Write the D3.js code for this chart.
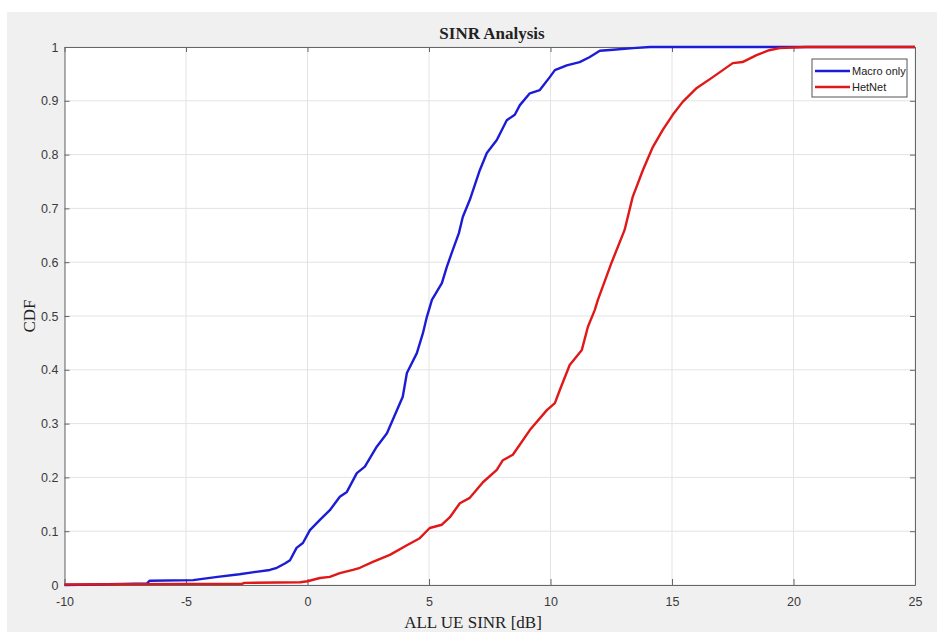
<!DOCTYPE html>
<html>
<head>
<meta charset="utf-8">
<script src="https://cdn.jsdelivr.net/npm/d3@7"></script>
<style>
  body { margin: 0; background: #fff; }
  svg { display: block; }
</style>
</head>
<body>
<svg id="chart" width="943" height="632"></svg>
<script>
// CDF of SINR, [dB, cdf]
const macroOnly = [
  [-10, 0], [-8.8, 0.001], [-7.6, 0.002], [-6.6, 0.003], [-6.5, 0.008], [-4.7, 0.009],
  [-4.4, 0.011], [-3.7, 0.015], [-2.8, 0.02], [-2.2, 0.024], [-1.55, 0.028],
  [-1.26, 0.032], [-0.93, 0.04], [-0.72, 0.046], [-0.45, 0.069], [-0.19, 0.078],
  [0.1, 0.102], [0.51, 0.121], [0.92, 0.139], [1.33, 0.164], [1.62, 0.173],
  [2.03, 0.208], [2.36, 0.22], [2.85, 0.257], [3.27, 0.282], [3.51, 0.307],
  [3.92, 0.35], [4.09, 0.394], [4.5, 0.431], [4.75, 0.468], [4.91, 0.498],
  [5.12, 0.53], [5.53, 0.561], [5.73, 0.591], [5.98, 0.623], [6.23, 0.654],
  [6.39, 0.684], [6.68, 0.716], [7.09, 0.771], [7.38, 0.803], [7.79, 0.827],
  [8.2, 0.864], [8.53, 0.874], [8.74, 0.892], [9.15, 0.914], [9.56, 0.92],
  [9.97, 0.944], [10.18, 0.957], [10.67, 0.966], [11.2, 0.972], [11.6, 0.981],
  [12.03, 0.993], [12.57, 0.995], [13.4, 0.998], [14.1, 1], [25, 1]
]
const hetNet = [
  [-10, 0.001], [-5, 0.002], [-2.7, 0.002], [-2.6, 0.004], [-0.3, 0.005],
  [0, 0.007], [0.51, 0.013], [0.92, 0.015], [1.33, 0.022], [1.87, 0.028],
  [2.16, 0.032], [2.69, 0.043], [3.39, 0.056], [4.09, 0.074], [4.62, 0.087],
  [5.03, 0.106], [5.53, 0.112], [5.86, 0.126], [6.27, 0.152], [6.68, 0.162],
  [7.22, 0.191], [7.79, 0.214], [8.04, 0.232], [8.45, 0.242], [9.15, 0.288],
  [9.85, 0.325], [10.18, 0.338], [10.38, 0.362], [10.79, 0.409], [11.29, 0.437],
  [11.54, 0.48], [11.82, 0.511], [11.95, 0.53], [12.52, 0.6], [13.05, 0.66],
  [13.38, 0.721], [13.8, 0.771], [14.21, 0.814], [14.62, 0.846], [15.03, 0.874],
  [15.44, 0.898], [16.02, 0.924], [16.68, 0.944], [17.5, 0.97], [17.9, 0.972],
  [18.48, 0.985], [19.0, 0.994], [19.43, 0.998], [20.5, 1], [25, 1]
]
const seriesNames = ['Macro only', 'HetNet']
const seriesColors = ['#1c1cd6', '#e01818']
const xTicks = [-10, -5, 0, 5, 10, 15, 20, 25]
const yTicks = [0, 0.1, 0.2, 0.3, 0.4, 0.5, 0.6, 0.7, 0.8, 0.9, 1]

const svg = d3.select('#chart')
const margin = { left: 64.5, right: 28, top: 47, bottom: 47 }
const width = 943, height = 632
const innerWidth = width - margin.left - margin.right
const innerHeight = height - margin.top - margin.bottom

// gray figure background
svg.append('rect').attr('x', 7).attr('y', 12).attr('width', 930).attr('height', 620).attr('fill', '#f0f0f0')

const xScale = d3.scaleLinear().domain([-10, 25]).range([0, innerWidth])
const yScale = d3.scaleLinear().domain([0, 1]).range([innerHeight, 0])

const g = svg.append('g').attr('transform', 'translate(' + margin.left + ',' + margin.top + ')')
g.append('rect').attr('width', innerWidth).attr('height', innerHeight).attr('fill', '#fff')

// grid
g.selectAll('.vgrid').data(xTicks).enter().append('line')
  .attr('x1', d => xScale(d)).attr('x2', d => xScale(d))
  .attr('y1', 0).attr('y2', innerHeight)
  .attr('stroke', '#e3e3e3').attr('stroke-width', 1)
g.selectAll('.hgrid').data(yTicks).enter().append('line')
  .attr('x1', 0).attr('x2', innerWidth)
  .attr('y1', d => yScale(d)).attr('y2', d => yScale(d))
  .attr('stroke', '#e3e3e3').attr('stroke-width', 1)

// axes (inward ticks, like matlab)
const axisColor = '#666'
const xAxis = g.append('g').attr('transform', `translate(0,${innerHeight})`)
  .call(d3.axisBottom(xScale).tickValues(xTicks).tickSizeInner(-6).tickSizeOuter(0).tickPadding(12)
    .tickFormat(d => String(d)))
const xAxisTop = g.append('g')
  .call(d3.axisTop(xScale).tickValues(xTicks).tickSizeInner(-5).tickSizeOuter(0))
const yAxis = g.append('g')
  .call(d3.axisLeft(yScale).tickValues(yTicks).tickSizeInner(-5).tickSizeOuter(0).tickPadding(6)
    .tickFormat(d => d === 0 || d === 1 ? String(d) : d3.format('.1f')(d)))
const yAxisRight = g.append('g').attr('transform', `translate(${innerWidth},0)`)
  .call(d3.axisRight(yScale).tickValues(yTicks).tickSizeInner(-5).tickSizeOuter(0))
xAxisTop.selectAll('.tick text').remove()
yAxisRight.selectAll('.tick text').remove()

;[xAxis, xAxisTop, yAxis, yAxisRight].forEach(a => {
  a.select('.domain').attr('stroke', axisColor)
  a.selectAll('.tick line').attr('stroke', axisColor)
  a.selectAll('.tick text').attr('fill', '#3a3a3a')
    .style('font-family', 'Liberation Sans, Arial, sans-serif').style('font-size', '12.5px')
})

// curves
const line = d3.line().x(d => xScale(d[0])).y(d => yScale(d[1]))
;[macroOnly, hetNet].forEach((s, i) => {
  g.append('path').datum(s)
    .attr('d', line)
    .attr('fill', 'none')
    .attr('stroke', seriesColors[i])
    .attr('stroke-width', 2.4)
    .attr('stroke-linejoin', 'round')
})

// legend
const legend = svg.append('g').attr('transform', 'translate(812,59)')
legend.append('rect').attr('width', 95).attr('height', 38)
  .attr('fill', '#fff').attr('stroke', '#555').attr('stroke-width', 1)
seriesNames.forEach((name, i) => {
  const y = 12 + i * 16
  legend.append('line').attr('x1', 3).attr('x2', 38).attr('y1', y).attr('y2', y)
    .attr('stroke', seriesColors[i]).attr('stroke-width', 2.4)
  legend.append('text').attr('x', 40).attr('y', y + 3.5).text(name)
    .style('font-family', 'Liberation Sans, Arial, sans-serif').style('font-size', '11px').attr('fill', '#222')
})

// title and labels
svg.append('text').attr('x', 492).attr('y', 39).attr('text-anchor', 'middle')
  .style('font-family', 'Liberation Serif, Times New Roman, serif').style('font-weight', 'bold').style('font-size', '17px')
  .attr('fill', '#222').text('SINR Analysis')
svg.append('text').attr('x', 473).attr('y', 628).attr('text-anchor', 'middle')
  .style('font-family', 'Liberation Serif, Times New Roman, serif').style('font-size', '17px')
  .attr('fill', '#222').text('ALL UE SINR [dB]')
svg.append('text').attr('transform', 'translate(35,316) rotate(-90)').attr('text-anchor', 'middle')
  .style('font-family', 'Liberation Serif, Times New Roman, serif').style('font-size', '17px')
  .attr('fill', '#222').text('CDF')
</script>
</body>
</html>
